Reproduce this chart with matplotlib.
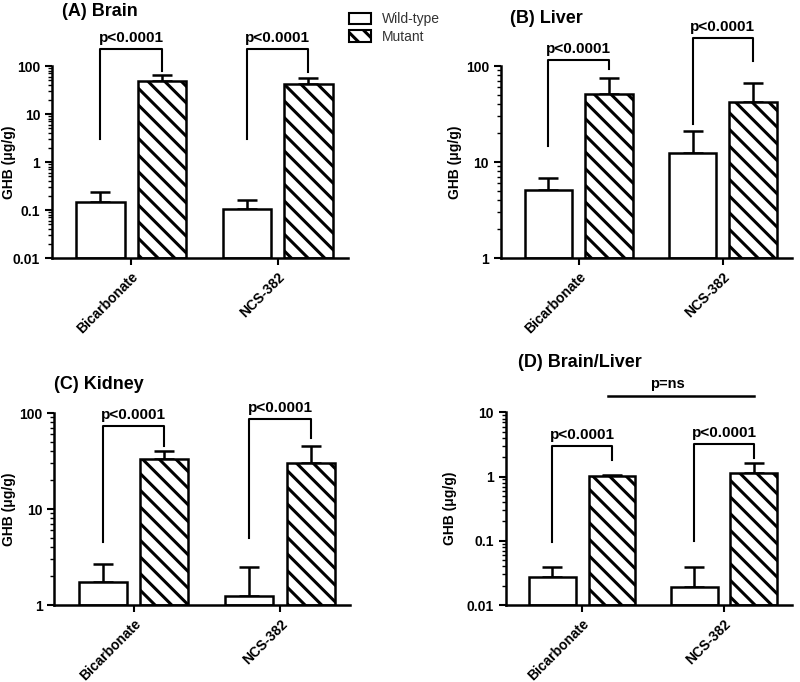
"""GHB levels in wild-type vs mutant tissue, four log-scale bar panels."""
import matplotlib
matplotlib.use("Agg")
import matplotlib.pyplot as plt
from matplotlib.patches import Patch
from matplotlib.ticker import FuncFormatter, LogLocator, NullFormatter
import numpy as np

plt.rcParams.update({
    "font.family": ["Liberation Sans", "DejaVu Sans"],
    "font.weight": "bold",
    "hatch.linewidth": 2.2,
    "axes.linewidth": 1.8,
})

# ── data ────────────────────────────────────────────────────────────────────
categories = ["Bicarbonate", "NCS-382"]

brain_wt = [0.147, 0.105]
brain_wt_sd = [0.09, 0.057]
brain_mut = [49, 42]
brain_mut_sd = [16, 14]

liver_wt = [5.1, 12.4]
liver_wt_sd = [1.7, 8.6]
liver_mut = [51, 42]
liver_mut_sd = [24, 24]

kidney_wt = [1.74, 1.24]
kidney_wt_sd = [0.92, 1.26]
kidney_mut = [33, 30.5]
kidney_mut_sd = [7.5, 15]

ratio_wt = [0.0275, 0.019]
ratio_wt_sd = [0.012, 0.020]
ratio_mut = [1.02, 1.15]
ratio_mut_sd = [0.05, 0.45]

p_label = "p<0.0001"

# ── panels ─────────────────────────────────────────────────────────────────
# bracket = (top, left-leg bottom, right-leg bottom)
panels = [
    dict(rect=[0.065, 0.6217, 0.37, 0.2815], title="(A) Brain", tpos=(0.078, 0.995),
         ylim=(0.01, 100), ylab_x=-0.122,
         wt=brain_wt, wt_sd=brain_wt_sd, mut=brain_mut, mut_sd=brain_mut_sd,
         brackets=[(226, 3.0, 79), (226, 3.0, 75)]),
    dict(rect=[0.626, 0.6217, 0.364, 0.2815], title="(B) Liver", tpos=(0.638, 0.985),
         ylim=(1, 100), ylab_x=-0.134,
         wt=liver_wt, wt_sd=liver_wt_sd, mut=liver_mut, mut_sd=liver_mut_sd,
         brackets=[(115, 14.7, 93), (196, 25, 113)]),
    dict(rect=[0.068, 0.1129, 0.37, 0.2815], title="(C) Kidney", tpos=(0.068, 0.448),
         ylim=(1, 100), ylab_x=-0.13,
         wt=kidney_wt, wt_sd=kidney_wt_sd, mut=kidney_mut, mut_sd=kidney_mut_sd,
         brackets=[(73, 4.5, 45), (87, 5.0, 55)]),
    dict(rect=[0.632, 0.1129, 0.358, 0.2825], title="(D) Brain/Liver", tpos=(0.648, 0.481),
         ylim=(0.01, 10), ylab_x=-0.168,
         wt=ratio_wt, wt_sd=ratio_wt_sd, mut=ratio_mut, mut_sd=ratio_mut_sd,
         brackets=[(2.94, 0.095, 1.84), (3.16, 0.1, 1.98)]),
]

fig = plt.figure(figsize=(8, 6.82), dpi=100)
x = np.arange(len(categories))
off, w = 0.21, 0.33

for p in panels:
    ax = fig.add_axes(p["rect"])
    ax.set_yscale("log")
    lo, hi = p["ylim"]
    ax.bar(x - off, np.array(p["wt"]) - lo, w, bottom=lo, color="white",
           edgecolor="black", lw=1.8, zorder=2)
    ax.bar(x + off, np.array(p["mut"]) - lo, w, bottom=lo, color="white",
           edgecolor="black", hatch="\\\\", lw=1.8, zorder=2)
    ax.errorbar(x - off, p["wt"], yerr=[np.zeros(2), p["wt_sd"]], fmt="none",
                ecolor="black", elinewidth=1.8, capsize=7, capthick=1.8, zorder=1)
    ax.errorbar(x + off, p["mut"], yerr=[np.zeros(2), p["mut_sd"]], fmt="none",
                ecolor="black", elinewidth=1.8, capsize=7, capthick=1.8, zorder=1)

    for i, (top, yl, yr) in enumerate(p["brackets"]):
        ax.plot([i - off, i - off, i + off, i + off], [yl, top, top, yr],
                color="black", lw=1.5, clip_on=False)
        ax.annotate(p_label, xy=(i, top), xytext=(0, 3), textcoords="offset points",
                    ha="center", va="bottom", fontsize=11, fontweight="bold",
                    annotation_clip=False)

    ax.set_ylim(lo, hi)
    ax.set_xlim(-0.54, 1.48)
    ax.yaxis.set_major_locator(LogLocator(base=10))
    ax.yaxis.set_minor_locator(LogLocator(base=10, subs=np.arange(2, 10)))
    ax.yaxis.set_minor_formatter(NullFormatter())
    ax.yaxis.set_major_formatter(FuncFormatter(lambda v, _: f"{v:g}"))
    ax.set_xticks(x)
    ax.set_xticklabels(categories, rotation=45, ha="right", rotation_mode="anchor",
                       fontsize=10, fontweight="bold")
    ax.tick_params(axis="y", which="major", length=5, width=1.5, labelsize=10)
    ax.tick_params(axis="y", which="minor", length=3, width=1)
    ax.tick_params(axis="x", length=5, width=1.5)
    for lab in ax.get_yticklabels():
        lab.set_fontweight("bold")
    ax.spines["top"].set_visible(False)
    ax.spines["right"].set_visible(False)
    ax.set_ylabel("GHB (μg/g)", fontsize=10, fontweight="bold")
    ax.yaxis.set_label_coords(p["ylab_x"], 0.5)
    fig.text(*p["tpos"], p["title"], fontsize=13, fontweight="bold", va="top")

    if p["title"].startswith("(D)"):
        ns_top = 17.8
        ax.plot([0.18, 1.21], [ns_top, ns_top], color="black", lw=1.8, clip_on=False)
        ax.annotate("p=ns", xy=(0.6, ns_top), xytext=(0, 4), textcoords="offset points",
                    ha="center", va="bottom", fontsize=10.5, fontweight="bold",
                    annotation_clip=False)

handles = [Patch(facecolor="white", edgecolor="black", lw=1.5, label="Wild-type"),
           Patch(facecolor="white", edgecolor="black", hatch="\\\\", lw=1.5, label="Mutant")]
leg = fig.legend(handles=handles, loc="upper left", bbox_to_anchor=(0.42, 1.0),
                 frameon=False, handlelength=1.6, handleheight=0.9, handletextpad=0.8,
                 labelspacing=0.25, prop={"size": 10, "weight": "normal"})
for t in leg.get_texts():
    t.set_color("#333333")

fig.savefig("out.png", dpi=100)
